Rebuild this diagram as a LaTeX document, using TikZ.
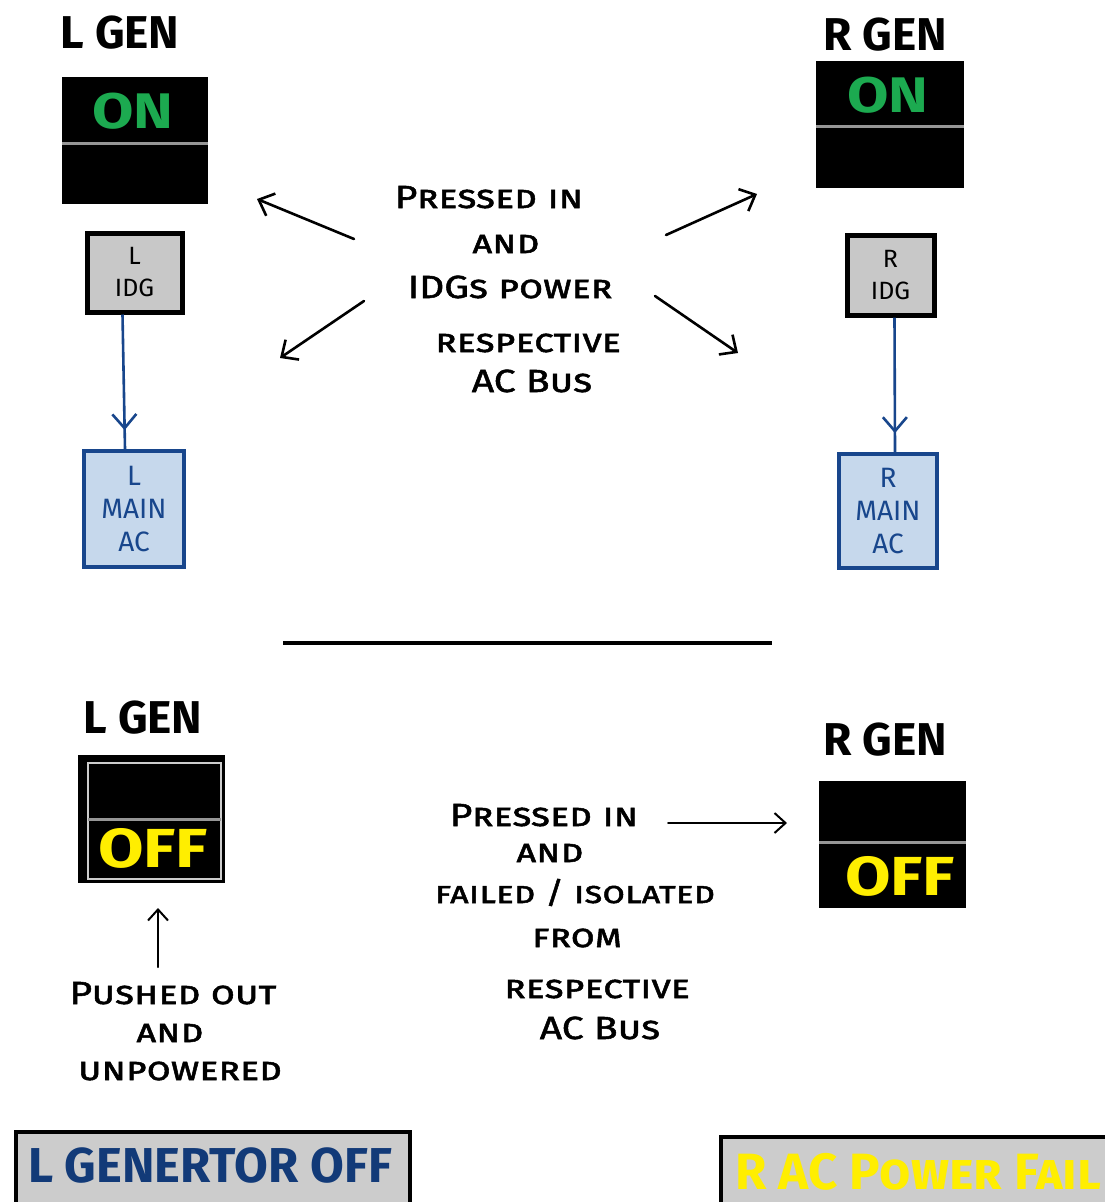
\documentclass[tikz,border=0pt]{standalone}
\usepackage{fontspec}
\setmainfont{Fira Sans}
\newfontfamily\handfont[FakeStretch=1.22,FakeBold=1.6]{Fira Sans}
\newfontfamily\lampfont[FakeStretch=1.2]{Fira Sans}
\usetikzlibrary{arrows.meta,decorations.markings}
\definecolor{ongreen}{RGB}{28,170,80}
\definecolor{offyellow}{RGB}{255,238,0}
\definecolor{idggrey}{RGB}{200,200,200}
\definecolor{panelgrey}{RGB}{204,204,204}
\definecolor{mainfill}{RGB}{198,216,236}
\definecolor{mainblue}{RGB}{24,70,140}
\definecolor{navytext}{RGB}{18,58,120}
\definecolor{dividergrey}{RGB}{150,150,150}
\definecolor{framegrey}{RGB}{205,205,205}
\begin{document}
\begin{tikzpicture}[x=1pt,y=-1pt,
 title/.style={font=\fontsize{46}{50}\selectfont\bfseries, inner sep=0, anchor=base},
 genbox/.style={fill=black, inner sep=0, minimum width=147pt, minimum height=127pt, anchor=north west},
 divider/.style={draw=dividergrey, line width=3pt},
 ontext/.style={font=\fontsize{50}{54}\selectfont\lampfont\bfseries, text=ongreen, inner sep=0, anchor=base},
 offtext/.style={font=\fontsize{55}{58}\selectfont\lampfont\bfseries, text=offyellow, inner sep=0, anchor=base},
 idgbox/.style={draw=black, line width=5pt, fill=idggrey, inner sep=0, anchor=north west, align=center, font=\fontsize{25}{32}\selectfont},
 mainbox/.style={draw=mainblue, line width=4pt, fill=mainfill, text=mainblue, inner sep=0, anchor=north west, align=center, font=\fontsize{28}{33}\selectfont},
 note/.style={font=\fontsize{32}{36}\selectfont\handfont\scshape, inner sep=0, anchor=base},
 pointer/.style={line width=2.6pt, line cap=round, -{Straight Barb[length=13pt,width=24pt,line width=2.6pt]}},
 thinpointer/.style={line width=2pt, line cap=round, -{Straight Barb[length=11pt,width=20pt,line width=2pt]}},
 feed/.style={draw=mainblue, line width=2.6pt, postaction={decorate}, decoration={markings, mark=at position 0.86 with {\arrow[mainblue]{Straight Barb[length=14pt,width=24pt,line width=2.6pt]}}}},
 panel/.style={draw=black, line width=4pt, fill=panelgrey, inner sep=0, anchor=north west},
]
\useasboundingbox (0,0) rectangle (1105,1202);
\fill[white] (0,0) rectangle (1105,1202);

% ---------- top left ----------
\node[title] (lgenT) at (120,48) {L GEN};
\node[genbox, minimum width=146pt] (lgenOn) at (62,77) {};
\draw[divider] (62,143) -- (208,143);
\node[ontext] (lgenOnTxt) at (133,128) {ON};
\node[idgbox, minimum width=95pt, minimum height=79pt] (lidg) at (84.5,230.5) {L\\IDG};
\node[mainbox, minimum width=100pt, minimum height=116pt] (lmain) at (82,449) {L\\MAIN\\AC};
\path[feed] ([xshift=-12pt]lidg.south) -- ([xshift=-9pt]lmain.north);

% ---------- top right ----------
\node[title] (rgenT) at (885,50) {R GEN};
\node[genbox, minimum width=148pt] (rgenOn) at (816,61) {};
\draw[divider] (816,126) -- (964,126);
\node[ontext] (rgenOnTxt) at (888,112) {ON};
\node[idgbox, minimum width=87pt, minimum height=80pt] (ridg) at (844.5,232.5) {R\\IDG};
\node[mainbox, minimum width=98pt, minimum height=114pt] (rmain) at (837,452) {R\\MAIN\\AC};
\path[feed] ([xshift=4pt]ridg.south) -- ([xshift=7pt]rmain.north);

% ---------- top centre note ----------
\node[note] (t1) at (489,208) {Pressed in};
\node[note] (t2) at (506,253) {and};
\node[note] (t3) at (510,298) {IDGs power};
\node[note] (t4) at (528,352) {respective};
\node[note] (t5) at (532,392) {AC Bus};
\coordinate (ulS) at (354,239); \coordinate (ulE) at (257,199);
\coordinate (llS) at (364,301); \coordinate (llE) at (280,358);
\coordinate (urS) at (666,235); \coordinate (urE) at (757,194);
\coordinate (lrS) at (655,296); \coordinate (lrE) at (738,353);
\draw[pointer] (ulS) -- (ulE);
\draw[pointer] (llS) -- (llE);
\draw[pointer] (urS) -- (urE);
\draw[pointer] (lrS) -- (lrE);

% ---------- separator ----------
\coordinate (sepL) at (283,643); \coordinate (sepR) at (772,643);
\draw[line width=4pt] (sepL) -- (sepR);

% ---------- bottom left ----------
\node[title] (lgenT2) at (143,733) {L GEN};
\node[genbox, minimum width=147pt, minimum height=128pt] (lgenOff) at (78,755) {};
\draw[draw=framegrey, line width=2.5pt] (88,763) rectangle (221,879);
\draw[divider] (88,819) -- (221,819);
\node[offtext] (lgenOffTxt) at (153,867) {OFF};
\node[note] (p1) at (173,1004) {Pushed out};
\node[note] (p2) at (170,1042) {and};
\node[note] (p3) at (180,1080) {unpowered};
\coordinate (upS) at (158,967); \coordinate (upE) at (158,908);
\draw[thinpointer] (upS) -- (upE);

% ---------- bottom right ----------
\node[title] (rgenT2) at (885,755) {R GEN};
\node[genbox] (rgenOff) at (819,781) {};
\draw[divider] (819,842) -- (966,842);
\node[offtext] (rgenOffTxt) at (900,895) {OFF};
\node[note] (q1) at (544,826) {Pressed in};
\node[note] (q2) at (550,862) {and};
\node[note, font=\fontsize{30}{34}\selectfont\handfont\scshape] (q3) at (575,903) {failed / isolated};
\node[note] (q4) at (577,947) {from};
\node[note] (q5) at (597,998) {respective};
\node[note] (q6) at (600,1039) {AC Bus};
\coordinate (rtS) at (668,823); \coordinate (rtE) at (787,823);
\draw[thinpointer] (rtS) -- (rtE);

% ---------- message panels ----------
\node[panel, minimum width=394pt, minimum height=92pt] (lpanel) at (14,1130) {};
\node[font=\fontsize{49}{52}\selectfont\bfseries, text=navytext, anchor=base west, inner sep=0] (lpanelT) at (28,1182) {L GENERTOR OFF};
\node[panel, minimum width=400pt, minimum height=92pt] (rpanel) at (719,1135) {};
\node[font=\fontsize{51}{56}\selectfont\bfseries\scshape, text=offyellow, anchor=base west, inner sep=0] (rpanelT) at (735,1189) {R AC Power Fail};
\end{tikzpicture}
\end{document}
